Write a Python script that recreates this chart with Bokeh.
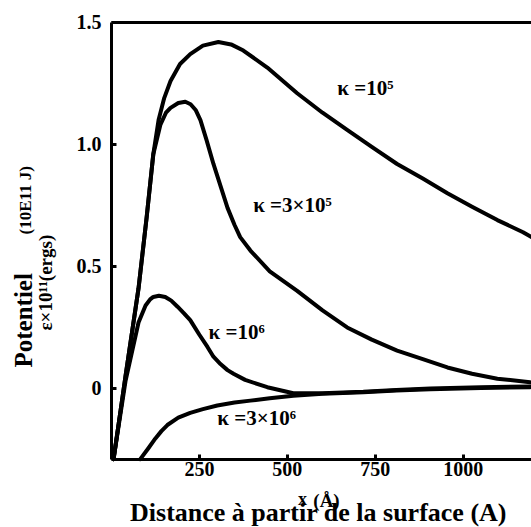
import math
from bokeh.plotting import figure
from bokeh.models import Range1d, Label, LinearAxis, FixedTicker
from bokeh.core.properties import value
from bokeh.embed import file_html
from bokeh.resources import INLINE

# kappa = 1e5
x_k1 = [6, 40, 77, 100, 119, 134, 150, 168, 195, 224, 260, 304, 340, 375, 443, 528, 600, 670, 740, 812, 885, 955, 1025, 1097, 1170, 1195]
y_k1 = [-0.29, 0.05, 0.41, 0.70, 0.96, 1.10, 1.19, 1.26, 1.33, 1.37, 1.405, 1.42, 1.41, 1.385, 1.315, 1.21, 1.13, 1.06, 0.99, 0.92, 0.86, 0.80, 0.745, 0.69, 0.64, 0.62]
# kappa = 3e5
x_k3 = [6, 40, 77, 100, 119, 139, 155, 168, 190, 210, 225, 240, 253, 270, 290, 310, 330, 350, 366, 395, 450, 528, 600, 670, 740, 812, 885, 955, 1025, 1097, 1190]
y_k3 = [-0.29, 0.05, 0.41, 0.70, 0.96, 1.08, 1.13, 1.15, 1.17, 1.175, 1.165, 1.14, 1.10, 1.02, 0.92, 0.83, 0.74, 0.67, 0.62, 0.565, 0.48, 0.40, 0.32, 0.25, 0.20, 0.155, 0.12, 0.086, 0.06, 0.04, 0.025]
# kappa = 1e6
x_k6 = [6, 40, 77, 97, 110, 119, 135, 153, 170, 188, 205, 224, 250, 273, 290, 310, 330, 347, 380, 443, 517, 600, 716, 810, 906, 1050, 1190]
y_k6 = [-0.29, 0.03, 0.27, 0.34, 0.365, 0.375, 0.38, 0.375, 0.36, 0.335, 0.31, 0.28, 0.22, 0.17, 0.13, 0.10, 0.075, 0.06, 0.035, 0.005, -0.02, -0.02, -0.014, -0.006, 0.0, 0.005, 0.008]
# kappa = 3e6
x_k36 = [82, 105, 125, 142, 159, 190, 224, 260, 301, 350, 395, 450, 517, 600, 716, 810, 906, 1050, 1190]
y_k36 = [-0.29, -0.245, -0.205, -0.175, -0.15, -0.12, -0.10, -0.085, -0.07, -0.058, -0.05, -0.04, -0.03, -0.022, -0.016, -0.008, -0.003, 0.002, 0.005]

curve_labels = ["κ =10⁵", "κ =3×10⁵", "κ =10⁶", "κ =3×10⁶"]
curve_label_x = [642, 403, 276, 301]
curve_label_y = [1.23, 0.75, 0.23, -0.12]

x_ticks = [250, 500, 750, 1000]
y_ticks = [0, 0.5, 1.0, 1.5]
y_tick_labels = {0: "0", 0.5: "0.5", 1.0: "1.0", 1.5: "1.5"}

X_MIN, X_MAX = 0, 1194
Y_MIN, Y_MAX = -0.29, 1.5

FONT = "Liberation Serif"

# the frame fills the whole canvas; axes are drawn at fixed data positions
p = figure(width=531, height=527, x_range=Range1d(-315.3, 1194), y_range=Range1d(-0.570, 1.590),
           output_backend="svg", toolbar_location=None,
           min_border_left=0, min_border_right=0, min_border_top=0, min_border_bottom=0)
p.title.visible = False
p.outline_line_color = None
p.xgrid.visible = False
p.ygrid.visible = False
p.background_fill_color = "white"

xa = p.xaxis[0]
ya = p.yaxis[0]
xa.fixed_location = Y_MIN
xa.bounds = (X_MIN, X_MAX)
ya.fixed_location = X_MIN
ya.bounds = (Y_MIN, Y_MAX)

for ax in (xa, ya):
    ax.axis_line_width = 3
    ax.axis_line_color = "black"
    ax.major_tick_in = 5
    ax.major_tick_out = 0
    ax.major_tick_line_width = 3
    ax.minor_tick_line_color = None
    ax.major_label_text_font = FONT
    ax.major_label_text_font_style = "bold"
    ax.major_label_text_font_size = "20px"
    ax.major_label_text_color = "black"

xa.ticker = FixedTicker(ticks=x_ticks)
ya.ticker = FixedTicker(ticks=y_ticks)
ya.major_label_overrides = y_tick_labels
xa.major_label_standoff = 3
ya.major_label_standoff = 10

top = LinearAxis(fixed_location=Y_MAX, bounds=(X_MIN, X_MAX), ticker=FixedTicker(ticks=[]),
                 axis_line_width=3, axis_line_color="black", major_tick_line_color=None,
                 minor_tick_line_color=None, major_label_text_font_size="0px")
p.add_layout(top, "above")

for xs, ys in ((x_k1, y_k1), (x_k3, y_k3), (x_k6, y_k6), (x_k36, y_k36)):
    p.line(xs, ys, line_color="black", line_width=4, line_join="round", line_cap="round")

p.text(x=curve_label_x, y=curve_label_y, text=curve_labels, text_font=value(FONT),
       text_font_style="bold", text_font_size="21px", text_baseline="middle", text_align="left",
       text_color="black")

def lab(txt, x, y, size, angle=0.0, align="left", baseline="middle"):
    p.add_layout(Label(x=x, y=y, x_units="screen", y_units="screen", text=txt,
                       text_font=FONT, text_font_style="bold", text_font_size=size,
                       angle=angle, text_align=align, text_baseline=baseline, text_color="black"))

lab("Distance à partir de la surface (A)", 318, 15, "26px", align="center", baseline="alphabetic")
lab("x", 302, 29, "18px", align="center", baseline="alphabetic")
lab("(Å)", 326, 27, "19px", align="center", baseline="alphabetic")
lab("Potentiel", 23, 160, "25px", angle=math.pi / 2)
lab("(10E11 J)", 25, 293, "17px", angle=math.pi / 2)
lab("ε×10¹¹(ergs)", 45, 197, "19px", angle=math.pi / 2)

open("out.html", "w").write(file_html(p, INLINE))
